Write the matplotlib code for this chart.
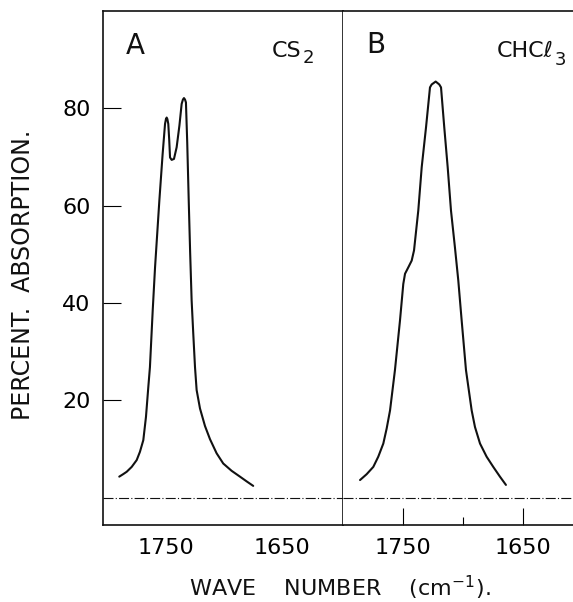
import matplotlib
matplotlib.use('Agg')
import matplotlib.pyplot as plt

# spectrum A: CS2 solution (wave number cm-1, percent absorption)
cs2_wn = [1789.8, 1786.5, 1783.4, 1779.1, 1774.8, 1772.0, 1769.1, 1766.8, 1764.8, 1763.4,
          1761.0, 1759.0, 1755.3, 1752.5, 1750.4, 1749.6, 1749.0, 1748.4, 1747.6, 1746.8,
          1746.1, 1744.7, 1742.7, 1740.4, 1738.0, 1736.1, 1735.0, 1734.1, 1733.2, 1732.4,
          1731.3, 1730.0, 1728.8, 1727.5, 1726.1, 1724.6, 1723.2, 1720.3, 1716.0, 1711.7,
          1706.0, 1700.3, 1693.1, 1685.9, 1680.0, 1674.5]
cs2_abs = [4.3, 4.8, 5.3, 6.3, 7.7, 9.4, 11.8, 16.6, 22.7, 26.8,
           38.5, 47.3, 61.0, 70.5, 76.8, 77.8, 78.1, 77.8, 76.8, 73.5,
           69.9, 69.4, 69.6, 72.0, 76.5, 80.9, 81.8, 82.1, 81.8, 81.2,
           73.0, 61.0, 50.5, 40.5, 33.7, 26.8, 22.1, 18.3, 14.7, 12.0,
           9.1, 7.0, 5.5, 4.3, 3.3, 2.4]

# spectrum B: CHCl3 solution
chcl3_wn = [1785.8, 1780.3, 1774.75, 1770.6, 1766.4, 1763.6, 1760.8, 1756.7, 1752.5, 1749.75,
            1748.3, 1745.6, 1742.75, 1740.8, 1737.25, 1734.4, 1730.8, 1727.5, 1726.1, 1722.75,
            1719.75, 1718.3, 1715.6, 1712.75, 1710.0, 1706.7, 1703.9, 1701.1, 1697.5, 1692.75,
            1690.0, 1685.8, 1680.3, 1674.75, 1669.2, 1664.2]
chcl3_abs = [3.6, 4.8, 6.3, 8.4, 11.1, 14.2, 17.9, 26.2, 36.4, 43.9,
             46.0, 47.3, 48.7, 50.8, 59.0, 67.9, 76.1, 84.3, 84.9, 85.5,
             84.9, 84.3, 76.1, 67.9, 59.0, 51.4, 44.6, 36.4, 26.2, 17.9,
             14.5, 11.1, 8.4, 6.3, 4.3, 2.6]

y_ticks = [20, 40, 60, 80]
x_ticks = [1750, 1650]

W, H = 573, 602
fig = plt.figure(figsize=(W / 100, H / 100), dpi=100)

ax1 = fig.add_axes([103 / W, 77 / H, 240 / W, 514 / H])
ax2 = fig.add_axes([343 / W, 77 / H, 230 / W, 514 / H])

ink = '#111111'
for ax in (ax1, ax2):
    ax.set_ylim(-5.64, 100)
    ax.axhline(0, color=ink, lw=0.8, ls=(0, (9, 2, 1, 2)))
    for s in ax.spines.values():
        s.set_linewidth(1.2)
        s.set_color(ink)

ax1.set_xlim(1803.8, 1597.2)
ax2.set_xlim(1800, 1608.3)

ax1.plot(cs2_wn, cs2_abs, color=ink, lw=1.5, solid_capstyle='round', solid_joinstyle='round')
ax2.plot(chcl3_wn, chcl3_abs, color=ink, lw=1.5, solid_capstyle='round', solid_joinstyle='round')

ax1.set_yticks(y_ticks)
ax1.set_xticks(x_ticks)
ax1.tick_params(axis='y', direction='in', length=13, width=0.8, labelsize=16, pad=9)
ax1.tick_params(axis='x', length=0, labelsize=16, pad=9)

ax2.spines['right'].set_visible(False)
ax2.spines['left'].set_visible(False)
ax2.set_yticks([])
ax2.set_xticks(x_ticks)
ax2.set_xticks([1700], minor=True)
ax2.tick_params(axis='x', which='major', direction='in', length=12, width=0.8, labelsize=16, pad=9)
ax2.tick_params(axis='x', which='minor', direction='in', length=6, width=0.8)

# panel labels
fig.text(135 / W, 1 - 46 / H, 'A', fontsize=20, ha='center', va='center', color=ink)
fig.text(376 / W, 1 - 45 / H, 'B', fontsize=20, ha='center', va='center', color=ink)
fig.text(272 / W, 1 - 57 / H, 'CS', fontsize=16, ha='left', va='baseline', color=ink)
fig.text(303 / W, 1 - 63 / H, '2', fontsize=13, ha='left', va='baseline', color=ink)
fig.text(497 / W, 1 - 57 / H, 'CHC\u2113', fontsize=16, ha='left', va='baseline', color=ink)
fig.text(555 / W, 1 - 65 / H, '3', fontsize=13, ha='left', va='baseline', color=ink)

fig.text(23 / W, 1 - 275 / H, 'PERCENT.  ABSORPTION.', rotation=90, fontsize=17,
         ha='center', va='center', color=ink)
fig.text(340 / W, 1 - 596 / H, 'WAVE    NUMBER    (cm$^{-1}$).', fontsize=16,
         ha='center', va='baseline', color=ink)

plt.savefig('out.png', dpi=100)
